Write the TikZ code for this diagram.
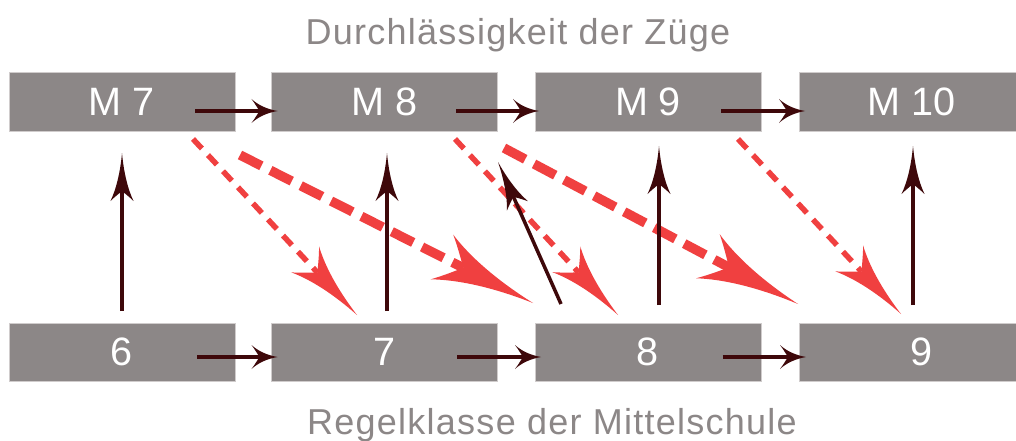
\documentclass[tikz,border=0pt]{standalone}
\usepackage{fontspec}
\setmainfont{Liberation Sans}
\newfontfamily\trackedfont[LetterSpace=3.5]{Liberation Sans}
\usetikzlibrary{arrows.meta}

% Filled arrow head with concave, swept-back sides
\pgfdeclarearrow{
  name = Blade,
  defaults = {length = 25pt, width = 22pt, inset = 8pt},
  parameters = {\the\pgfarrowlength,\the\pgfarrowwidth,\the\pgfarrowinset},
  setup code = {
    \pgfarrowssettipend{\pgfarrowlength}
    \pgfarrowssetlineend{\pgfarrowinset}
    \pgfarrowssetbackend{0pt}
    \pgfarrowshullpoint{\pgfarrowlength}{0pt}
    \pgfarrowsupperhullpoint{0pt}{.5\pgfarrowwidth}
    \pgfarrowssavethe\pgfarrowlength
    \pgfarrowssavethe\pgfarrowwidth
    \pgfarrowssavethe\pgfarrowinset
  },
  drawing code = {
    \pgfpathmoveto{\pgfqpoint{\pgfarrowlength}{0pt}}
    \pgfpathcurveto
      {\pgfqpoint{.58\pgfarrowlength}{.08\pgfarrowwidth}}
      {\pgfqpoint{.24\pgfarrowlength}{.26\pgfarrowwidth}}
      {\pgfqpoint{0pt}{.5\pgfarrowwidth}}
    \pgfpathcurveto
      {\pgfqpoint{.45\pgfarrowinset}{.30\pgfarrowwidth}}
      {\pgfqpoint{.80\pgfarrowinset}{.10\pgfarrowwidth}}
      {\pgfqpoint{\pgfarrowinset}{0pt}}
    \pgfpathcurveto
      {\pgfqpoint{.80\pgfarrowinset}{-.10\pgfarrowwidth}}
      {\pgfqpoint{.45\pgfarrowinset}{-.30\pgfarrowwidth}}
      {\pgfqpoint{0pt}{-.5\pgfarrowwidth}}
    \pgfpathcurveto
      {\pgfqpoint{.24\pgfarrowlength}{-.26\pgfarrowwidth}}
      {\pgfqpoint{.58\pgfarrowlength}{-.08\pgfarrowwidth}}
      {\pgfqpoint{\pgfarrowlength}{0pt}}
    \pgfpathclose
    \pgfusepathqfill
  }
}

\definecolor{boxgray}{RGB}{140,135,135}
\definecolor{boxedge}{RGB}{208,204,204}
\definecolor{titlegray}{RGB}{140,135,135}
\definecolor{darkarrow}{RGB}{62,8,10}
\definecolor{redarrow}{RGB}{240,64,64}

\begin{document}
\begin{tikzpicture}[x=1pt,y=-1pt,
  grade/.style={draw=boxedge, line width=1pt, fill=boxgray, outer sep=0pt,
    minimum width=226pt, minimum height=58pt, inner sep=0pt, text=white,
    font=\fontsize{39.6}{40}\selectfont},
  heading/.style={text=titlegray, inner sep=0pt, anchor=base,
    font=\trackedfont\fontsize{36}{38}\selectfont},
  next/.style={draw=darkarrow, line width=4pt,
    -{Blade[length=26pt,width=24pt,inset=8pt]}},
  rise/.style={draw=darkarrow, line width=3.5pt,
    -{Blade[length=48pt,width=23pt,inset=10pt]}},
  steep/.style={draw=redarrow, line width=5.5pt, dash pattern=on 13pt off 9pt,
    -{Blade[length=76pt,width=38pt,inset=18pt]}},
  shallow/.style={draw=redarrow, line width=9.5pt, dash pattern=on 24pt off 10pt,
    -{Blade[length=102pt,width=50pt,inset=24pt]}}
]
\useasboundingbox (0,0) rectangle (1016,441);
\clip (0,0) rectangle (1016,441);
\fill[white] (0,0) rectangle (1016,441);

% titles
\node[heading] (top) at (518,45) {Durchlässigkeit der Züge};
\node[heading] (bottom) at (552,434) {Regelklasse der Mittelschule};

% M-classes
\node[grade] (m7) at (122,102) {M 7};
\node[grade] (m8) at (384.5,102) {M 8};
\node[grade] (m9) at (648,102) {M 9};
\node[grade] (m10) at (912,102) {M 10};

% regular classes
\node[grade] (b6) at (122,352) {6};
\node[grade] (b7) at (384.5,352) {7};
\node[grade] (b8) at (648,352) {8};
\node[grade] (b9) at (912,352) {\hspace*{18pt}9};

% transfers into the M-track of the next year
\draw[steep] ([shift={(71,37)}]m7.center) -- ([shift={(-27.5,-37)}]b7.center);
\draw[steep] ([shift={(70.5,37)}]m8.center) -- ([shift={(-30,-37)}]b8.center);
\draw[steep] ([shift={(90,37)}]m9.center) -- ([shift={(-11,-38)}]b9.center);
\draw[shallow] ([shift={(118,53)}]m7.center) -- ([shift={(-115,-49)}]b8.center);
\draw[shallow] ([shift={(119.5,46)}]m8.center) -- ([shift={(-114,-48)}]b9.center);

% progression along each track
\draw[next] ([shift={(73,9)}]m7.center) -- ([shift={(6,9)}]m8.west);
\draw[next] ([shift={(71.5,9)}]m8.center) -- ([shift={(4,9)}]m9.west);
\draw[next] ([shift={(73,9)}]m9.center) -- ([shift={(6,9)}]m10.west);
\draw[next] ([shift={(75,5)}]b6.center) -- ([shift={(6,5)}]b7.west);
\draw[next] ([shift={(72.5,5)}]b7.center) -- ([shift={(6,5)}]b8.west);
\draw[next] ([shift={(74.5,5)}]b8.center) -- ([shift={(7,5)}]b9.west);

% upward moves
\draw[rise] ([shift={(0,-12)}]b6.north) -- ([shift={(0,22)}]m7.south);
\draw[rise] ([shift={(2.5,-12)}]b7.north) -- ([shift={(2.5,22)}]m8.south);
\draw[rise] ([shift={(11,-18)}]b8.north) -- ([shift={(11,15)}]m9.south);
\draw[rise] ([shift={(1,-18)}]b9.north) -- ([shift={(1,15)}]m10.south);
\draw[rise] ([shift={(-87,-48)}]b8.center) -- ([shift={(113.5,60)}]m8.center);
\end{tikzpicture}
\end{document}
